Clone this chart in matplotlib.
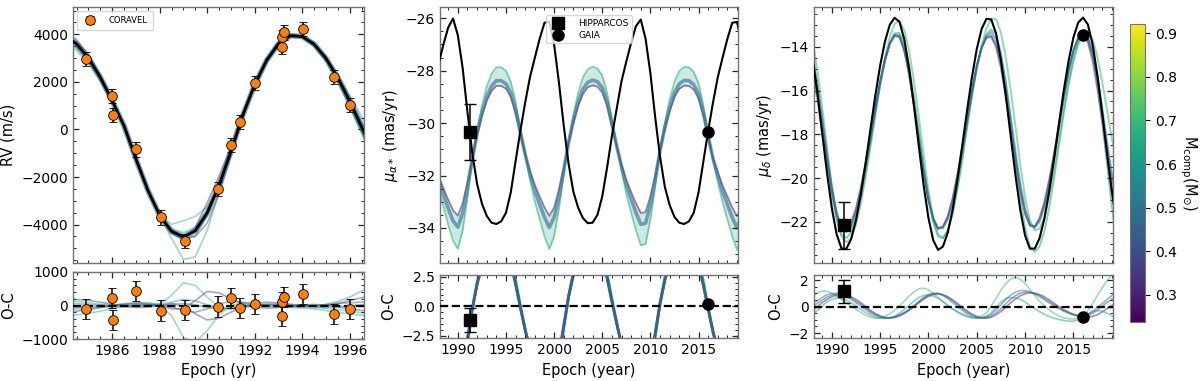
import matplotlib
matplotlib.use("Agg")
import matplotlib.pyplot as plt
import numpy as np
from matplotlib.ticker import MultipleLocator, AutoMinorLocator
from matplotlib.colors import Normalize
from matplotlib.cm import ScalarMappable

# ---------------- RV data (CORAVEL) ----------------
rv_epoch = [1984.91, 1986.0, 1986.05, 1987.0, 1988.05, 1989.05, 1990.45, 1991.0,
            1991.4, 1992.0, 1993.15, 1993.17, 1993.25, 1994.05, 1995.35, 1996.0]
rv_val = [2950, 1400, 620, -840, -3700, -4700, -2500, -650,
          310, 1960, 3870, 3460, 4080, 4230, 2200, 1020]
rv_err = [300] * 16
rv_oc = [-110, 220, -430, 440, -150, -130, -30, 220,
         -80, 50, 90, -300, 250, 340, -250, -110]

# model epochs for the RV panel (every half year)
rv_t = np.arange(1984.0, 1997.01, 0.5)
rv_best = [3930, 3600, 3010, 2195, 1215, 150, -1240, -2555, -3610, -4285,
           -4520, -4260, -3505, -2350, -920, 600, 1880, 2900, 3600, 3945,
           3915, 3590, 2995, 2170, 1185, 110, -950]
# orbit draws, shown as O-C relative to the best orbit
rv_draw_mass = [0.68, 0.66, 0.32, 0.36, 0.60, 0.48, 0.42]
rv_draw_oc = [
    [150, 120, 80, 40, 20, 30, 60, 80, 50, 300, 680, 600, 250, -50,
     -100, -60, 0, 30, 40, 20, 0, -30, -80, -120, -170, -220, -260],
    [-300, -280, -230, -170, -100, -40, 0, 20, 0, -300, -950, -1100, -750, -280,
     0, 80, 60, 20, -20, -60, -80, -100, -150, -200, -250, -290, -320],
    [-200, -170, -120, -60, 0, 50, 80, 60, 0, -100, -100, 150, 420, 380,
     200, 60, -40, -80, -60, -20, 20, 30, 10, -40, -100, -150, -200],
    [200, 180, 150, 100, 40, -20, -60, -50, 0, 60, -20, -250, -430, -380,
     -200, -40, 60, 100, 80, 40, 0, -20, 0, 60, 150, 230, 300],
    [-120, -100, -80, -60, -40, -20, 0, 20, 40, 100, 180, 140, 20, -80,
     -100, -60, 0, 40, 40, 10, -20, -20, 30, 120, 250, 430, 580],
    [60, 50, 30, 10, -10, -30, -30, -20, 0, 40, 60, 20, -60, -100,
     -80, -30, 10, 30, 20, -10, -40, -60, -60, -40, -10, 20, 50],
    [-60, -50, -40, -20, 0, 20, 30, 20, 0, -40, -150, -200, -100, 50,
     120, 100, 40, -10, -40, -40, -20, 0, 30, 60, 80, 100, 110],
]

# ---------------- proper motions (HIPPARCOS / GAIA) ----------------
pm_epoch = [1991.25, 2016.0]
pma_obs = [-30.35, -30.33]
pma_err = [1.07, 0.0]
pma_oc = [-1.15, 0.19]
pma_oc_err = [1.03, 0.0]
pmd_obs = [-22.16, -13.44]
pmd_err = [1.07, 0.0]
pmd_oc = [1.15, -0.75]
pmd_oc_err = [0.85, 0.0]

pm_t = np.arange(1988.0, 2019.51, 0.5)

pma_black = [-27.74, -27.0, -26.35, -26.01, -26.65, -27.9, -29.58, -31.15,
             -32.32, -33.07, -33.54, -33.8, -33.85, -33.75, -33.42, -32.64,
             -31.45, -30.28, -29.2, -28.23, -27.5, -26.78, -26.17, -26.13,
             -27.0, -28.45, -30.1, -31.55, -32.62, -33.23, -33.63, -33.82,
             -33.8, -33.5, -32.8, -31.7, -30.5, -29.45, -28.4, -27.65,
             -26.93, -26.3, -26.05, -26.78, -28.1, -29.78, -31.28, -32.43,
             -33.13, -33.58, -33.8, -33.85, -33.75, -33.42, -32.65, -31.47,
             -30.3, -29.22, -28.25, -27.5, -26.78, -26.17, -26.14, -26.98]
pma_draw_mass = [0.68, 0.33, 0.47]
pma_draws = [
    [-32.44, -33.19, -33.88, -34.49, -34.80, -34.09, -32.84, -31.43,
     -30.26, -29.34, -28.6, -28.12, -27.87, -27.87, -28.01, -28.43,
     -29.19, -30.21, -31.2, -32.18, -32.99, -33.67, -34.32, -34.81,
     -34.32, -33.28, -31.98, -30.67, -29.67, -28.84, -28.25, -27.94,
     -27.85, -27.92, -28.19, -28.84, -29.82, -30.82, -31.8, -32.71,
     -33.41, -34.09, -34.66, -34.61, -33.67, -32.44, -31.02, -29.98,
     -29.11, -28.43, -28.01, -27.86, -27.87, -28.05, -28.49, -29.31,
     -30.37, -31.4, -32.24, -33.02, -33.67, -34.32, -34.84, -34.26],
    [-32.0, -32.49, -32.93, -33.33, -33.53, -33.06, -32.26, -31.35,
     -30.46, -29.73, -29.15, -28.77, -28.58, -28.58, -28.69, -29.01,
     -29.62, -30.42, -31.2, -31.83, -32.36, -32.8, -33.22, -33.54,
     -33.22, -32.54, -31.7, -30.78, -29.99, -29.34, -28.88, -28.63,
     -28.56, -28.61, -28.83, -29.34, -30.11, -30.9, -31.59, -32.17,
     -32.63, -33.06, -33.43, -33.4, -32.8, -32.0, -31.06, -30.24,
     -29.55, -29.01, -28.69, -28.57, -28.58, -28.72, -29.06, -29.71,
     -30.55, -31.33, -31.87, -32.38, -32.8, -33.22, -33.55, -33.17],
    [-32.15, -32.73, -33.26, -33.73, -33.97, -33.42, -32.46, -31.38,
     -30.4, -29.62, -29.0, -28.59, -28.38, -28.38, -28.5, -28.85,
     -29.5, -30.36, -31.2, -31.95, -32.58, -33.1, -33.6, -33.98,
     -33.6, -32.8, -31.8, -30.75, -29.9, -29.2, -28.7, -28.44,
     -28.36, -28.42, -28.65, -29.2, -30.03, -30.88, -31.66, -32.36,
     -32.9, -33.42, -33.86, -33.82, -33.1, -32.15, -31.05, -30.17,
     -29.43, -28.85, -28.5, -28.37, -28.38, -28.53, -28.9, -29.6,
     -30.5, -31.35, -32.0, -32.6, -33.1, -33.6, -34.0, -33.55],
]

pmd_black = [-14.52, -16.11, -17.94, -19.77, -21.38, -22.58, -23.22, -23.24,
             -22.79, -21.93, -20.74, -19.31, -17.76, -16.23, -14.86, -13.75,
             -12.99, -12.67, -12.86, -13.66, -14.99, -16.69, -18.54, -20.32,
             -21.83, -22.85, -23.29, -23.13, -22.5, -21.45, -20.08, -18.52,
             -16.9, -15.39, -14.1, -13.19, -12.72, -12.75, -13.39, -14.6,
             -16.21, -18.04, -19.85, -21.45, -22.63, -23.23, -23.23, -22.75,
             -21.85, -20.6, -19.13, -17.55, -16.01, -14.65, -13.58, -12.89,
             -12.66, -12.98, -13.91, -15.34, -17.09, -18.94, -20.68, -22.1]
# draws, read as O-C relative to the black orbit
pmd_draw_mass = [0.70, 0.30, 0.64, 0.42, 0.50]
pmd_draw_oc = [
    [0.8, 1.05, 1.2, 1.15, 1.0, 0.78, 0.55, 0.3,
     0.05, -0.2, -0.45, -0.65, -0.8, -0.88, -0.87, -0.75,
     -0.55, -0.28, 0.05, 0.42, 0.8, 1.12, 1.35, 1.4,
     1.28, 1.02, 0.7, 0.38, 0.08, -0.2, -0.42, -0.62,
     -0.76, -0.85, -0.86, -0.75, -0.45, 0.05, 0.65, 1.25,
     1.75, 2.1, 2.22, 2.08, 1.75, 1.3, 0.85, 0.42,
     0.05, -0.25, -0.5, -0.7, -0.84, -0.92, -0.95, -0.88,
     -0.7, -0.3, 0.25, 0.85, 1.45, 2.0, 2.45, 2.8],
    [-0.3, 0.0, 0.3, 0.55, 0.75, 0.88, 0.92, 0.88,
     0.75, 0.55, 0.3, 0.02, -0.28, -0.52, -0.7, -0.82,
     -0.86, -0.82, -0.7, -0.52, -0.28, 0.0, 0.3, 0.56,
     0.78, 0.92, 0.96, 0.9, 0.75, 0.52, 0.25, -0.05,
     -0.32, -0.56, -0.74, -0.85, -0.87, -0.8, -0.62, -0.36,
     -0.05, 0.28, 0.58, 0.82, 0.98, 1.04, 1.02, 0.92,
     0.75, 0.52, 0.26, 0.0, -0.22, -0.42, -0.58, -0.7,
     -0.78, -0.8, -0.74, -0.6, -0.4, -0.15, 0.1, 0.35],
    [-0.6, -0.3, 0.05, 0.35, 0.55, 0.65, 0.62, 0.5,
     0.3, 0.05, -0.2, -0.45, -0.65, -0.8, -0.88, -0.9,
     -0.85, -0.72, -0.5, -0.22, 0.1, 0.42, 0.7, 0.85,
     0.88, 0.8, 0.62, 0.38, 0.1, -0.15, -0.38, -0.58,
     -0.72, -0.82, -0.86, -0.84, -0.72, -0.45, -0.05, 0.35,
     0.6, 0.7, 0.68, 0.55, 0.35, 0.1, -0.15, -0.38,
     -0.58, -0.75, -0.88, -0.98, -1.05, -1.1, -1.1, -1.0,
     -0.8, -0.55, -0.35, -0.3, -0.35, -0.5, -0.7, -0.85],
    [0.0, 0.25, 0.5, 0.72, 0.88, 0.95, 0.93, 0.82,
     0.64, 0.42, 0.17, -0.1, -0.36, -0.58, -0.74, -0.84,
     -0.86, -0.8, -0.66, -0.48, -0.24, 0.04, 0.34, 0.62,
     0.84, 0.97, 1.0, 0.9, 0.7, 0.44, 0.16, -0.14,
     -0.42, -0.64, -0.8, -0.86, -0.84, -0.72, -0.48, -0.15,
     0.22, 0.56, 0.84, 1.02, 1.1, 1.1, 1.0, 0.84,
     0.62, 0.38, 0.14, -0.08, -0.28, -0.45, -0.6, -0.7,
     -0.76, -0.68, -0.5, -0.25, 0.05, 0.32, 0.58, 0.8],
    [0.2, 0.45, 0.7, 0.9, 1.0, 1.02, 0.95, 0.78,
     0.55, 0.3, 0.05, -0.22, -0.48, -0.68, -0.8, -0.86,
     -0.85, -0.76, -0.62, -0.45, -0.2, 0.08, 0.4, 0.7,
     0.92, 1.03, 1.0, 0.85, 0.6, 0.3, 0.02, -0.28,
     -0.55, -0.74, -0.84, -0.86, -0.78, -0.58, -0.25, 0.15,
     0.55, 0.88, 1.1, 1.22, 1.22, 1.12, 0.95, 0.75,
     0.52, 0.28, 0.05, -0.15, -0.35, -0.5, -0.62, -0.7,
     -0.75, -0.6, -0.35, -0.05, 0.25, 0.55, 0.85, 1.1],
]

mass_range = (0.238, 0.921)
cbar_ticks = [0.3, 0.4, 0.5, 0.6, 0.7, 0.8, 0.9]

# ---------------- figure ----------------
cmap = plt.get_cmap("viridis")
norm = Normalize(*mass_range)

fig = plt.figure(figsize=(12, 3.81), dpi=100)
ax1 = fig.add_axes([0.0608, 0.3089, 0.2425, 0.6727])
ax1r = fig.add_axes([0.0608, 0.1102, 0.2425, 0.1759])
ax2 = fig.add_axes([0.3667, 0.3089, 0.2483, 0.6727])
ax2r = fig.add_axes([0.3667, 0.1121, 0.2483, 0.1661])
ax3 = fig.add_axes([0.6783, 0.3089, 0.2492, 0.6727])
ax3r = fig.add_axes([0.6783, 0.1121, 0.2492, 0.1661])
cax = fig.add_axes([0.9417, 0.1549, 0.0125, 0.782])


def style(ax):
    ax.tick_params(which="both", direction="in", top=True, right=True,
                   labelsize=10, color="0.15")
    ax.tick_params(which="major", length=4, width=0.9)
    ax.tick_params(which="minor", length=2, width=0.7)
    for s in ax.spines.values():
        s.set_color("0.45")
        s.set_linewidth(1.0)


# --- RV ---
rv_best = np.array(rv_best)
for m, oc in zip(rv_draw_mass, rv_draw_oc):
    c = cmap(norm(m))
    ax1.plot(rv_t, rv_best + np.array(oc), color=c, lw=1.2, alpha=0.45, zorder=1)
    ax1r.plot(rv_t, oc, color=c, lw=1.2, alpha=0.45, zorder=1)
ax1.plot(rv_t, rv_best, color=cmap(norm(0.5)), lw=4, alpha=0.6, zorder=2)
ax1.plot(rv_t, rv_best, color="k", lw=2, zorder=3)
ax1.errorbar(rv_epoch, rv_val, yerr=rv_err, fmt="o", color="#ff7f0e", mec="k",
             mew=0.6, ms=7, ecolor="k", elinewidth=1.1, capsize=3, zorder=5,
             label="CORAVEL")
ax1r.errorbar(rv_epoch, rv_oc, yerr=rv_err, fmt="o", color="#ff7f0e", mec="k",
              mew=0.6, ms=7, ecolor="k", elinewidth=1.1, capsize=3, zorder=5)
ax1r.axhline(0, color="k", ls="--", lw=1.6, zorder=4)
ax1.legend(loc="upper left", fontsize=6, borderpad=0.6, handletextpad=1.2)
ax1.set_xlim(1984.35, 1996.6)
ax1r.set_xlim(1984.35, 1996.6)
ax1.set_ylim(-5630, 5150)
ax1r.set_ylim(-1000, 1000)
ax1.set_ylabel("RV (m/s)", fontsize=10.5)
ax1r.set_ylabel("O-C", fontsize=10.5)
ax1r.set_xlabel("Epoch (yr)", fontsize=10.5)
ax1.yaxis.set_major_locator(MultipleLocator(2000))
ax1r.yaxis.set_major_locator(MultipleLocator(1000))
for a in (ax1, ax1r):
    a.xaxis.set_major_locator(MultipleLocator(2))
    a.xaxis.set_minor_locator(MultipleLocator(0.5))
    a.yaxis.set_minor_locator(AutoMinorLocator())
    style(a)
ax1.tick_params(labelbottom=False)

# --- mu_alpha ---
pma_black = np.array(pma_black)
ax2.fill_between(pm_t, pma_draws[0], pma_draws[1], color=cmap(norm(0.62)),
                 alpha=0.22, lw=0, zorder=0)
for m, d, w in zip(pma_draw_mass, pma_draws, [1.3, 1.3, 2.6]):
    d = np.array(d)
    c = cmap(norm(m))
    ax2.plot(pm_t, d, color=c, lw=w, alpha=0.6, zorder=1)
    ax2r.plot(pm_t, d - pma_black, color=c, lw=2.0, alpha=0.8, zorder=1)
ax2.plot(pm_t, pma_black, color="k", lw=1.5, zorder=3)
ax2.errorbar(pm_epoch[:1], pma_obs[:1], yerr=pma_err[:1], fmt="none", ecolor="k",
             elinewidth=1.1, capsize=4, zorder=5)
ax2.plot(pm_epoch[0], pma_obs[0], "ks", ms=8, zorder=6, label="HIPPARCOS")
ax2.plot(pm_epoch[1], pma_obs[1], "ko", ms=8, zorder=6, label="GAIA")
ax2r.errorbar(pm_epoch[:1], pma_oc[:1], yerr=pma_oc_err[:1], fmt="none", ecolor="k",
              elinewidth=1.1, capsize=4, zorder=5)
ax2r.plot(pm_epoch[0], pma_oc[0], "ks", ms=8, zorder=6)
ax2r.plot(pm_epoch[1], pma_oc[1], "ko", ms=8, zorder=6)
ax2r.axhline(0, color="k", ls="--", lw=1.6, zorder=4)
ax2.legend(loc="upper center", fontsize=6.5, borderpad=0.4, handletextpad=1.2,
           labelspacing=0.3, bbox_to_anchor=(0.5, 0.985))
ax2.set_ylim(-35.35, -25.57)
ax2r.set_ylim(-2.7, 2.65)
ax2.set_ylabel(r"$\mu_{\alpha*}$ (mas/yr)", fontsize=10.5)
ax2r.set_ylabel("O-C", fontsize=10.5)
ax2r.set_xlabel("Epoch (year)", fontsize=10.5)
ax2.yaxis.set_major_locator(MultipleLocator(2))
ax2r.yaxis.set_major_locator(MultipleLocator(2.5))

# --- mu_delta ---
pmd_black = np.array(pmd_black)
for m, oc in zip(pmd_draw_mass, pmd_draw_oc):
    c = cmap(norm(m))
    ax3.plot(pm_t, pmd_black + np.array(oc), color=c, lw=1.4, alpha=0.55, zorder=1)
    ax3r.plot(pm_t, oc, color=c, lw=1.2, alpha=0.5, zorder=1)
ax3.plot(pm_t, pmd_black, color="k", lw=1.5, zorder=3)
ax3.errorbar(pm_epoch[:1], pmd_obs[:1], yerr=pmd_err[:1], fmt="none", ecolor="k",
             elinewidth=1.1, capsize=4, zorder=5)
ax3.plot(pm_epoch[0], pmd_obs[0], "ks", ms=8, zorder=6)
ax3.plot(pm_epoch[1], pmd_obs[1], "ko", ms=8, zorder=6)
ax3r.errorbar(pm_epoch[:1], pmd_oc[:1], yerr=pmd_oc_err[:1], fmt="none", ecolor="k",
              elinewidth=1.1, capsize=4, zorder=5)
ax3r.plot(pm_epoch[0], pmd_oc[0], "ks", ms=8, zorder=6)
ax3r.plot(pm_epoch[1], pmd_oc[1], "ko", ms=8, zorder=6)
ax3r.axhline(0, color="k", ls="--", lw=1.6, zorder=4)
ax3.set_ylim(-23.9, -12.18)
ax3r.set_ylim(-2.4, 2.4)
ax3.set_ylabel(r"$\mu_{\delta}$ (mas/yr)", fontsize=10.5)
ax3r.set_ylabel("O-C", fontsize=10.5)
ax3r.set_xlabel("Epoch (year)", fontsize=10.5)
ax3.yaxis.set_major_locator(MultipleLocator(2))
ax3r.yaxis.set_major_locator(MultipleLocator(2))

for a in (ax2, ax2r, ax3, ax3r):
    a.set_xlim(1988.15, 2019.1)
    a.xaxis.set_major_locator(MultipleLocator(5))
    a.xaxis.set_minor_locator(MultipleLocator(1))
    a.yaxis.set_minor_locator(AutoMinorLocator())
    style(a)
ax2.tick_params(labelbottom=False)
ax3.tick_params(labelbottom=False)

# --- colorbar ---
cb = fig.colorbar(ScalarMappable(norm=norm, cmap=cmap), cax=cax, ticks=cbar_ticks)
cb.ax.tick_params(labelsize=10)
cb.outline.set_edgecolor("0.45")
cb.set_label(r"M$_{\rm comp}$(M$_{\odot}$)", rotation=270, labelpad=16, fontsize=10.5)

fig.savefig("out.png", dpi=100)
